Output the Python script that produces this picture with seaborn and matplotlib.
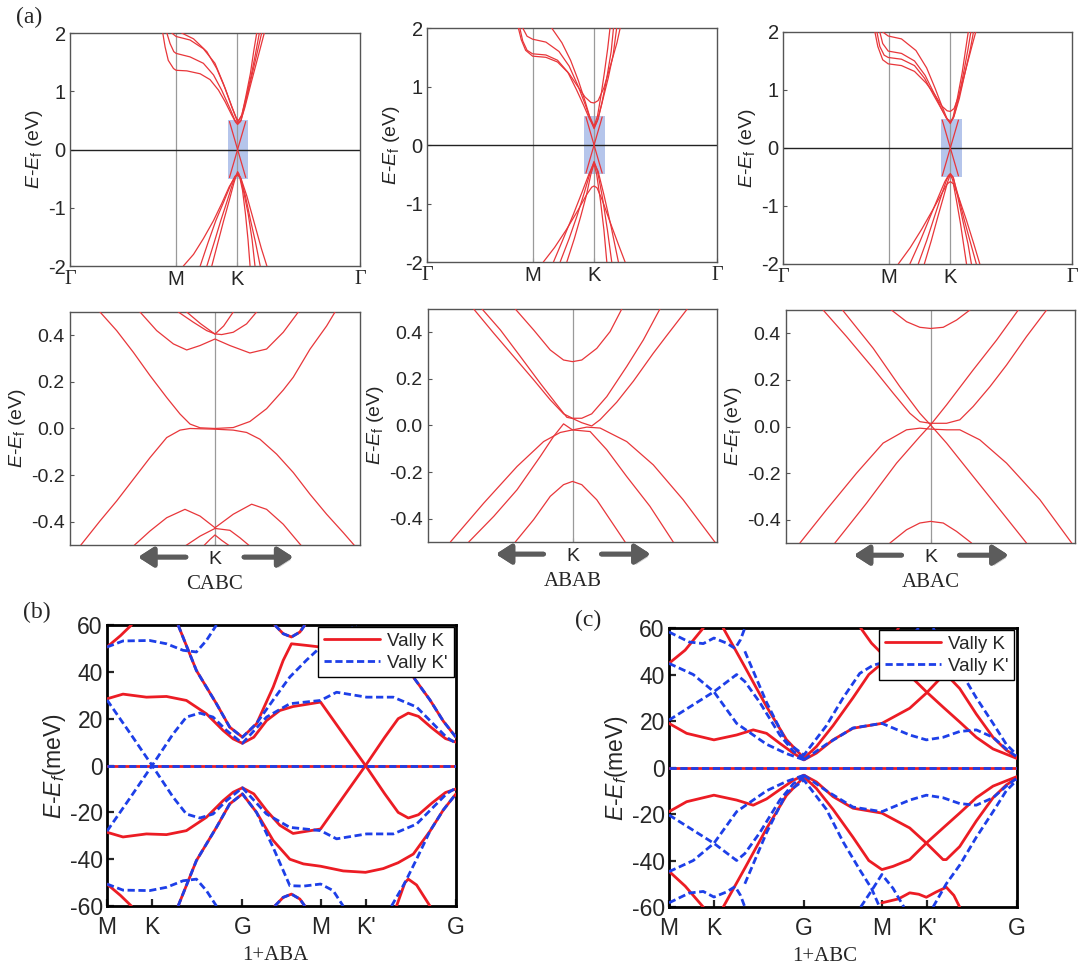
import pandas as pd
import matplotlib.pyplot as plt
import seaborn as sns
from matplotlib.lines import Line2D
import matplotlib.patheffects as pe

plt.switch_backend('Agg')

# ---------------- (a) top row: bands along Gamma-M-K-Gamma (k normalised to 1) ----------------
path_ticks = [0.0, 0.366, 0.577, 1.0]
path_labels = ['Γ', 'M', 'K', 'Γ']
stack_names = ['CABC', 'ABAB', 'ABAC']
zoom_windows = [(0.546, 0.615), (0.541, 0.614), (0.546, 0.618)]

cabc_full = [
    [(0.320, 2.0), (0.328, 1.76), (0.339, 1.53), (0.357, 1.39), (0.366, 1.36), (0.403, 1.35), (0.449, 1.30),
     (0.483, 1.20), (0.512, 1.02), (0.535, 0.82), (0.558, 0.59), (0.571, 0.47), (0.578, 0.43), (0.588, 0.48),
     (0.603, 0.72), (0.625, 1.15), (0.650, 1.62), (0.670, 2.0)],
    [(0.334, 2.0), (0.345, 1.82), (0.358, 1.68), (0.366, 1.65), (0.414, 1.59), (0.460, 1.48), (0.495, 1.28),
     (0.523, 1.02), (0.552, 0.70), (0.569, 0.50), (0.578, 0.45), (0.590, 0.50), (0.605, 0.80), (0.624, 1.20),
     (0.645, 1.65), (0.661, 2.0)],
    [(0.351, 2.0), (0.366, 1.94), (0.414, 1.88), (0.460, 1.73), (0.500, 1.48), (0.529, 1.13), (0.552, 0.82),
     (0.569, 0.59), (0.578, 0.47), (0.592, 0.58), (0.607, 0.88), (0.624, 1.25), (0.640, 1.65), (0.653, 2.0)],
    [(0.385, 2.0), (0.426, 1.90), (0.472, 1.68), (0.506, 1.39), (0.535, 1.05), (0.558, 0.73), (0.573, 0.55),
     (0.581, 0.49), (0.593, 0.60), (0.606, 0.90), (0.622, 1.30), (0.634, 1.70), (0.644, 2.0)],
    [(0.391, -2.0), (0.426, -1.80), (0.460, -1.53), (0.495, -1.22), (0.523, -0.93), (0.549, -0.64), (0.569, -0.47),
     (0.578, -0.44), (0.590, -0.50), (0.610, -0.80), (0.635, -1.25), (0.660, -1.70), (0.679, -2.0)],
    [(0.449, -2.0), (0.476, -1.60), (0.503, -1.22), (0.530, -0.90), (0.553, -0.62), (0.569, -0.46), (0.578, -0.42),
     (0.588, -0.48), (0.605, -0.80), (0.622, -1.20), (0.640, -1.60), (0.656, -2.0)],
    [(0.472, -2.0), (0.497, -1.60), (0.520, -1.22), (0.541, -0.90), (0.560, -0.60), (0.572, -0.45), (0.578, -0.41),
     (0.586, -0.46), (0.600, -0.75), (0.615, -1.12), (0.628, -1.55), (0.638, -2.0)],
    [(0.489, -2.0), (0.510, -1.60), (0.530, -1.22), (0.549, -0.88), (0.565, -0.58), (0.575, -0.42), (0.578, -0.38),
     (0.583, -0.42), (0.595, -0.70), (0.605, -1.10), (0.614, -1.55), (0.621, -2.0)],
    [(0.550, 0.48), (0.578, 0.0), (0.606, -0.48)],
    [(0.550, -0.48), (0.578, 0.0), (0.606, 0.48)],
]

abab_full = [
    [(0.315, 2.0), (0.325, 1.80), (0.340, 1.62), (0.364, 1.52), (0.410, 1.50), (0.450, 1.42), (0.490, 1.22),
     (0.520, 1.00), (0.545, 0.82), (0.565, 0.73), (0.576, 0.72), (0.590, 0.76), (0.610, 0.98), (0.635, 1.40),
     (0.655, 1.75), (0.666, 2.0)],
    [(0.320, 2.0), (0.330, 1.78), (0.345, 1.62), (0.364, 1.56), (0.410, 1.54), (0.450, 1.45), (0.485, 1.25),
     (0.515, 0.95), (0.540, 0.68), (0.560, 0.45), (0.576, 0.30), (0.590, 0.45), (0.605, 0.75), (0.625, 1.15),
     (0.642, 1.55), (0.654, 2.0)],
    [(0.330, 2.0), (0.345, 1.86), (0.364, 1.81), (0.410, 1.76), (0.455, 1.60), (0.490, 1.35), (0.520, 1.02),
     (0.545, 0.70), (0.563, 0.45), (0.576, 0.28), (0.588, 0.42), (0.603, 0.72), (0.620, 1.15), (0.635, 1.60),
     (0.643, 2.0)],
    [(0.430, 2.0), (0.465, 1.75), (0.495, 1.45), (0.522, 1.10), (0.545, 0.75), (0.560, 0.50), (0.576, 0.32),
     (0.588, 0.50), (0.600, 0.85), (0.612, 1.25), (0.623, 1.65), (0.631, 2.0)],
    [(0.401, -2.0), (0.440, -1.75), (0.480, -1.45), (0.520, -1.12), (0.550, -0.85), (0.568, -0.72), (0.576, -0.70),
     (0.586, -0.73), (0.605, -0.95), (0.630, -1.30), (0.660, -1.70), (0.683, -2.0)],
    [(0.436, -2.0), (0.470, -1.60), (0.505, -1.18), (0.535, -0.80), (0.558, -0.50), (0.576, -0.30), (0.590, -0.45),
     (0.610, -0.85), (0.635, -1.40), (0.660, -2.0)],
    [(0.459, -2.0), (0.490, -1.60), (0.518, -1.20), (0.542, -0.82), (0.562, -0.48), (0.576, -0.28), (0.588, -0.45),
     (0.605, -0.90), (0.622, -1.45), (0.637, -2.0)],
    [(0.482, -2.0), (0.508, -1.60), (0.530, -1.22), (0.550, -0.85), (0.565, -0.50), (0.576, -0.32), (0.585, -0.50),
     (0.598, -0.95), (0.610, -1.45), (0.620, -2.0)],
    [(0.548, 0.48), (0.576, 0.0), (0.604, -0.48)],
    [(0.548, -0.48), (0.576, 0.0), (0.604, 0.48)],
]

abac_full = [
    [(0.318, 2.0), (0.328, 1.75), (0.345, 1.52), (0.364, 1.45), (0.410, 1.42), (0.455, 1.32), (0.495, 1.12),
     (0.525, 0.92), (0.550, 0.72), (0.568, 0.64), (0.579, 0.63), (0.592, 0.68), (0.612, 0.95), (0.635, 1.40),
     (0.655, 1.78), (0.667, 2.0)],
    [(0.325, 2.0), (0.335, 1.75), (0.350, 1.60), (0.364, 1.56), (0.410, 1.53), (0.455, 1.42), (0.490, 1.20),
     (0.520, 0.92), (0.545, 0.70), (0.565, 0.52), (0.579, 0.45), (0.592, 0.55), (0.610, 0.85), (0.630, 1.30),
     (0.648, 1.70), (0.659, 2.0)],
    [(0.335, 2.0), (0.345, 1.80), (0.364, 1.67), (0.410, 1.63), (0.455, 1.50), (0.492, 1.25), (0.522, 0.95),
     (0.548, 0.68), (0.567, 0.50), (0.579, 0.44), (0.590, 0.52), (0.607, 0.85), (0.625, 1.30), (0.640, 1.70),
     (0.650, 2.0)],
    [(0.345, 2.0), (0.364, 1.93), (0.410, 1.88), (0.460, 1.68), (0.497, 1.38), (0.527, 1.02), (0.550, 0.72),
     (0.568, 0.50), (0.579, 0.42), (0.588, 0.52), (0.603, 0.85), (0.620, 1.30), (0.632, 1.70), (0.641, 2.0)],
    [(0.399, -2.0), (0.440, -1.72), (0.480, -1.40), (0.520, -1.05), (0.550, -0.78), (0.568, -0.62), (0.579, -0.58),
     (0.590, -0.62), (0.610, -0.88), (0.635, -1.25), (0.660, -1.65), (0.681, -2.0)],
    [(0.439, -2.0), (0.475, -1.60), (0.508, -1.20), (0.537, -0.85), (0.560, -0.58), (0.573, -0.47), (0.579, -0.45),
     (0.588, -0.50), (0.605, -0.80), (0.625, -1.20), (0.648, -1.62), (0.669, -2.0)],
    [(0.468, -2.0), (0.497, -1.60), (0.523, -1.20), (0.546, -0.85), (0.566, -0.55), (0.579, -0.44), (0.590, -0.52),
     (0.605, -0.85), (0.622, -1.25), (0.640, -1.65), (0.652, -2.0)],
    [(0.489, -2.0), (0.513, -1.60), (0.535, -1.20), (0.555, -0.85), (0.570, -0.58), (0.579, -0.46), (0.587, -0.55),
     (0.600, -0.90), (0.614, -1.30), (0.626, -1.70), (0.635, -2.0)],
    [(0.551, 0.48), (0.579, 0.0), (0.607, -0.48)],
    [(0.551, -0.48), (0.579, 0.0), (0.607, 0.48)],
]

# ---------------- (a) middle row: zoom around K (k from -1 to 1) ----------------
cabc_zoom = [
    [(-0.793, 0.50), (-0.678, 0.42), (-0.563, 0.327), (-0.448, 0.227), (-0.333, 0.133), (-0.241, 0.062),
     (-0.172, 0.019), (-0.103, 0.003), (0.0, 0.0), (0.126, 0.004), (0.241, 0.03), (0.356, 0.085), (0.471, 0.165),
     (0.540, 0.22), (0.655, 0.34), (0.770, 0.44), (0.828, 0.50)],
    [(-0.931, -0.505), (-0.793, -0.397), (-0.678, -0.311), (-0.563, -0.218), (-0.448, -0.125), (-0.333, -0.039),
     (-0.241, -0.007), (-0.172, 0.0), (0.0, -0.003), (0.126, -0.007), (0.218, -0.017), (0.310, -0.046),
     (0.425, -0.11), (0.540, -0.189), (0.655, -0.282), (0.770, -0.368), (0.885, -0.447), (0.966, -0.505)],
    [(-0.253, 0.50), (-0.149, 0.456), (-0.057, 0.42), (0.0, 0.406), (0.046, 0.403), (0.126, 0.413),
     (0.218, 0.449), (0.287, 0.50)],
    [(-0.195, 0.50), (-0.10, 0.45), (0.0, 0.405), (0.06, 0.44), (0.126, 0.50)],
    [(-0.517, 0.50), (-0.402, 0.42), (-0.287, 0.363), (-0.195, 0.337), (-0.103, 0.356), (0.0, 0.384),
     (0.103, 0.356), (0.241, 0.324), (0.356, 0.341), (0.471, 0.413), (0.575, 0.50)],
    [(-0.563, -0.505), (-0.448, -0.44), (-0.333, -0.383), (-0.207, -0.347), (-0.103, -0.376), (0.0, -0.426),
     (0.126, -0.368), (0.253, -0.325), (0.356, -0.347), (0.471, -0.411), (0.598, -0.505)],
    [(-0.207, -0.505), (-0.103, -0.462), (0.0, -0.429), (0.103, -0.437), (0.172, -0.469), (0.241, -0.505)],
    [(-0.080, -0.505), (-0.034, -0.476), (0.0, -0.457), (0.046, -0.48), (0.103, -0.505)],
]

abab_zoom = [
    [(-0.396, 0.50), (-0.269, 0.41), (-0.154, 0.324), (-0.062, 0.281), (0.0, 0.274), (0.064, 0.281),
     (0.168, 0.331), (0.260, 0.403), (0.341, 0.50)],
    [(-0.396, -0.50), (-0.269, -0.404), (-0.154, -0.304), (-0.062, -0.254), (0.0, -0.24), (0.064, -0.254),
     (0.168, -0.319), (0.260, -0.404), (0.364, -0.50)],
    [(-0.684, 0.50), (-0.545, 0.396), (-0.407, 0.296), (-0.269, 0.196), (-0.154, 0.11), (-0.062, 0.05),
     (0.0, 0.031), (0.064, 0.031), (0.133, 0.05), (0.237, 0.124), (0.375, 0.253), (0.490, 0.367), (0.605, 0.50)],
    [(-0.626, 0.50), (-0.499, 0.41), (-0.361, 0.296), (-0.223, 0.181), (-0.108, 0.089), (-0.039, 0.035),
     (0.0, 0.03), (0.064, 0.012), (0.133, -0.002), (0.191, 0.025), (0.306, 0.10), (0.421, 0.19), (0.559, 0.31),
     (0.651, 0.385), (0.794, 0.50)],
    [(-0.845, -0.50), (-0.614, -0.333), (-0.384, -0.176), (-0.200, -0.069), (-0.085, -0.03), (0.0, -0.019),
     (0.099, -0.007), (0.191, -0.011), (0.375, -0.069), (0.559, -0.169), (0.766, -0.319), (0.985, -0.50)],
    [(-0.718, -0.50), (-0.545, -0.39), (-0.384, -0.276), (-0.223, -0.133), (-0.131, -0.047), (-0.062, 0.007),
     (0.0, -0.019), (0.122, -0.026), (0.237, -0.104), (0.375, -0.219), (0.536, -0.347), (0.697, -0.50)],
]

abac_zoom = [
    [(-0.27, 0.50), (-0.166, 0.45), (-0.074, 0.426), (0.0, 0.421), (0.088, 0.426), (0.18, 0.457), (0.272, 0.50)],
    [(-0.281, -0.50), (-0.166, -0.443), (-0.074, -0.414), (0.0, -0.407), (0.088, -0.414), (0.18, -0.45),
     (0.284, -0.50)],
    [(-0.743, 0.50), (-0.581, 0.386), (-0.397, 0.25), (-0.258, 0.143), (-0.143, 0.057), (-0.074, 0.021),
     (0.0, 0.014), (0.111, 0.014), (0.203, 0.029), (0.295, 0.086), (0.411, 0.171), (0.526, 0.264),
     (0.664, 0.386), (0.803, 0.50)],
    [(-0.609, 0.50), (-0.397, 0.336), (-0.212, 0.171), (-0.074, 0.057), (0.0, 0.007), (0.111, -0.071),
     (0.295, -0.214), (0.48, -0.357), (0.664, -0.50)],
    [(-0.662, -0.50), (-0.443, -0.329), (-0.235, -0.157), (-0.074, -0.043), (0.0, 0.007), (0.111, 0.093),
     (0.295, 0.243), (0.457, 0.371), (0.607, 0.50)],
    [(-0.904, -0.50), (-0.72, -0.357), (-0.512, -0.2), (-0.328, -0.071), (-0.166, -0.014), (-0.074, -0.007),
     (0.0, -0.011), (0.111, -0.014), (0.203, -0.014), (0.341, -0.057), (0.526, -0.157), (0.757, -0.314),
     (0.977, -0.50)],
]

# ---------------- (b), (c): valley-resolved bands along M-K-G-M-K'-G (meV) ----------------
valley_ticks = [0.0, 0.333, 1.0, 1.577, 1.911, 2.577]
valley_labels = ['M', 'K', 'G', 'M', "K'", 'G']

aba_valley_k = [
    [(0.0, 0.0), (2.577, 0.0)],
    [(0.0, 28.5), (0.118, 30.5), (0.291, 29.2), (0.439, 29.5), (0.586, 27.8), (0.734, 22.1), (0.857, 15.0),
     (0.931, 11.4), (1.0, 9.5), (1.084, 12.1), (1.178, 19.2), (1.276, 23.5), (1.374, 25.2), (1.577, 27.1),
     (1.909, 0.0), (2.050, -12.0), (2.150, -20.0), (2.225, -22.4), (2.300, -21.0), (2.400, -16.0),
     (2.500, -11.5), (2.577, -10.0)],
    [(0.0, -28.5), (0.118, -30.5), (0.291, -29.2), (0.439, -29.5), (0.586, -27.8), (0.734, -22.1), (0.857, -15.0),
     (0.931, -11.4), (1.0, -9.5), (1.084, -12.1), (1.178, -19.2), (1.276, -25.5), (1.374, -29.0), (1.577, -27.1),
     (1.909, 0.0), (2.050, 12.0), (2.150, 20.0), (2.225, 22.4), (2.300, 21.0), (2.400, 16.0), (2.500, 11.5),
     (2.577, 10.0)],
    [(0.525, 60.0), (0.660, 40.6), (0.808, 26.4), (0.906, 16.4), (1.0, 12.1), (1.104, 17.8), (1.227, 33.5),
     (1.301, 44.9), (1.362, 52.0), (1.473, 51.3), (1.577, 50.6), (1.744, 52.5), (1.909, 52.5), (2.040, 50.0),
     (2.150, 45.5), (2.262, 37.8), (2.385, 28.0), (2.483, 19.0), (2.577, 12.1)],
    [(0.525, -60.0), (0.660, -40.6), (0.808, -26.4), (0.906, -16.4), (1.0, -12.1), (1.104, -20.0), (1.227, -32.0),
     (1.350, -40.0), (1.450, -42.0), (1.577, -43.0), (1.744, -45.0), (1.909, -45.6), (2.040, -44.0),
     (2.150, -41.5), (2.262, -37.8), (2.385, -28.0), (2.483, -19.0), (2.577, -12.1)],
    [(0.0, 50.6), (0.10, 55.5), (0.18, 60.0)],
    [(0.0, -50.6), (0.10, -55.5), (0.18, -60.0)],
    [(1.239, 60.0), (1.301, 56.3), (1.362, 54.9), (1.424, 57.0), (1.461, 60.0)],
    [(1.239, -60.0), (1.301, -56.3), (1.362, -54.9), (1.424, -57.0), (1.461, -60.0)],
    [(2.138, -60.0), (2.200, -50.0), (2.225, -48.5), (2.286, -51.0), (2.385, -60.0)],
]

aba_valley_kp = [
    [(0.0, 0.0), (2.577, 0.0)],
    [(0.0, 50.6), (0.118, 53.2), (0.315, 53.4), (0.439, 52.0), (0.562, 49.2), (0.660, 48.5), (0.734, 53.4),
     (0.808, 60.0)],
    [(0.0, -50.6), (0.118, -53.2), (0.315, -53.4), (0.439, -52.0), (0.562, -49.2), (0.660, -48.5), (0.734, -53.4),
     (0.808, -60.0)],
    [(0.0, 28.0), (0.168, 14.0), (0.333, 0.0), (0.488, -13.5), (0.586, -20.7), (0.685, -22.4), (0.783, -20.7),
     (0.882, -15.0), (1.0, -9.5), (1.178, -20.7), (1.350, -26.4), (1.577, -27.8), (1.695, -31.3), (1.917, -29.2),
     (2.114, -29.2), (2.286, -25.0), (2.409, -17.8), (2.507, -12.1), (2.577, -9.5)],
    [(0.0, -28.0), (0.168, -14.0), (0.333, 0.0), (0.488, 13.5), (0.586, 20.7), (0.685, 22.4), (0.783, 20.7),
     (0.882, 15.0), (1.0, 9.5), (1.178, 20.7), (1.350, 26.4), (1.577, 27.8), (1.695, 31.3), (1.917, 29.2),
     (2.114, 29.2), (2.286, 25.0), (2.409, 17.8), (2.507, 12.1), (2.577, 9.5)],
    [(0.525, 60.0), (0.660, 40.6), (0.808, 26.4), (0.906, 16.4), (1.0, 12.1), (1.104, 18.0), (1.227, 28.0),
     (1.350, 37.8), (1.473, 45.0), (1.577, 50.6), (1.670, 53.0), (1.769, 57.0), (1.840, 60.0)],
    [(0.525, -60.0), (0.660, -40.6), (0.808, -26.4), (0.906, -16.4), (1.0, -12.1), (1.104, -20.0), (1.227, -35.0),
     (1.350, -51.3), (1.450, -51.5), (1.577, -50.6), (1.670, -53.4), (1.744, -60.0)],
    [(2.040, 50.0), (2.150, 45.5), (2.262, 37.8), (2.385, 28.0), (2.483, 19.0), (2.577, 12.1)],
    [(2.101, -60.0), (2.200, -50.0), (2.286, -40.0), (2.385, -28.0), (2.483, -19.0), (2.577, -12.1)],
    [(1.239, 60.0), (1.301, 56.3), (1.362, 54.9), (1.424, 57.0), (1.461, 60.0)],
    [(1.239, -60.0), (1.301, -56.3), (1.362, -54.9), (1.424, -57.0), (1.461, -60.0)],
]

abc_valley_k = [
    [(0.0, 0.0), (2.577, 0.0)],
    [(0.0, 19.0), (0.131, 14.7), (0.333, 11.9), (0.501, 14.0), (0.624, 16.2), (0.723, 14.7), (0.821, 10.4),
     (0.921, 6.2), (1.0, 3.3), (1.092, 6.2), (1.215, 11.9), (1.363, 16.9), (1.577, 19.0), (1.783, 25.5),
     (1.906, 32.0), (2.030, 39.6), (2.054, 40.0), (2.153, 34.0), (2.276, 23.0), (2.400, 13.0), (2.498, 7.5),
     (2.577, 4.5)],
    [(0.0, -19.0), (0.131, -14.7), (0.333, -11.9), (0.501, -14.0), (0.624, -16.2), (0.723, -13.5), (0.821, -9.5),
     (0.921, -5.5), (1.0, -3.3), (1.092, -6.2), (1.215, -12.5), (1.363, -17.5), (1.577, -19.6), (1.783, -26.0),
     (1.906, -32.5), (2.030, -39.6), (2.054, -39.6), (2.153, -34.0), (2.276, -23.0), (2.400, -13.0),
     (2.498, -7.5), (2.577, -4.5)],
    [(0.402, 60.0), (0.562, 43.3), (0.723, 26.2), (0.870, 12.0), (1.0, 4.0), (1.092, 9.0), (1.215, 18.0),
     (1.363, 30.0), (1.480, 40.0), (1.577, 44.8), (1.660, 43.0), (1.783, 39.6), (1.906, 32.6), (2.030, 26.0),
     (2.153, 19.6), (2.276, 13.0), (2.400, 8.0), (2.577, 3.9)],
    [(0.402, -60.0), (0.562, -43.3), (0.723, -26.2), (0.870, -12.0), (1.0, -4.0), (1.092, -9.0), (1.215, -18.0),
     (1.363, -30.0), (1.480, -40.0), (1.577, -43.9), (1.660, -42.5), (1.783, -39.6), (1.906, -32.5),
     (2.030, -26.0), (2.153, -19.6), (2.276, -13.0), (2.400, -8.0), (2.577, -3.9)],
    [(0.0, 44.8), (0.120, 50.5), (0.254, 60.0)],
    [(0.0, -44.6), (0.120, -51.0), (0.254, -60.0)],
    [(1.420, 60.0), (1.500, 53.5), (1.577, 49.0), (1.640, 54.0), (1.700, 60.0)],
    [(1.577, -58.2), (1.700, -56.5), (1.783, -53.9), (1.850, -54.5), (1.906, -55.8), (1.980, -53.5),
     (2.054, -51.5), (2.110, -55.0), (2.153, -60.0)],
]

abc_valley_kp = [
    [(0.0, 0.0), (2.577, 0.0)],
    [(0.0, 58.3), (0.150, 54.0), (0.254, 53.3), (0.333, 55.7), (0.427, 53.5), (0.490, 51.2), (0.530, 55.0),
     (0.562, 60.0)],
    [(0.0, -58.2), (0.150, -54.0), (0.254, -53.3), (0.333, -55.7), (0.427, -53.5), (0.490, -51.2), (0.530, -55.0),
     (0.562, -60.0)],
    [(0.0, 44.8), (0.180, 40.0), (0.333, 32.6), (0.501, 19.0), (0.624, 14.0), (0.723, 10.0), (0.870, 6.0),
     (1.0, 3.3)],
    [(0.0, 20.4), (0.180, 27.0), (0.333, 32.6), (0.501, 40.0), (0.562, 37.0), (0.673, 28.0), (0.821, 14.0),
     (0.921, 7.0), (1.0, 4.0)],
    [(0.0, -44.8), (0.180, -40.0), (0.333, -32.6), (0.501, -19.0), (0.624, -14.0), (0.723, -10.0), (0.870, -6.0),
     (1.0, -3.3)],
    [(0.0, -20.4), (0.180, -27.0), (0.333, -32.6), (0.501, -40.0), (0.562, -37.0), (0.673, -28.0), (0.821, -14.0),
     (0.921, -7.0), (1.0, -4.0)],
    [(1.0, 3.3), (1.166, 10.0), (1.363, 17.0), (1.577, 19.0), (1.783, 14.0), (1.906, 11.9), (2.030, 13.0),
     (2.153, 15.5), (2.276, 16.2), (2.400, 13.0), (2.498, 8.0), (2.577, 4.5)],
    [(1.0, -3.3), (1.166, -10.0), (1.363, -17.0), (1.577, -19.0), (1.783, -14.0), (1.906, -11.9), (2.030, -13.0),
     (2.153, -15.5), (2.276, -16.2), (2.400, -13.0), (2.498, -8.0), (2.577, -4.5)],
    [(0.562, 50.0), (0.723, 28.0), (0.870, 11.0), (1.0, 5.4), (1.166, 18.0), (1.290, 30.0), (1.413, 40.5),
     (1.512, 44.0), (1.577, 45.0), (1.660, 50.0), (1.783, 56.0), (1.850, 60.0)],
    [(0.562, -50.0), (0.723, -28.0), (0.870, -11.0), (1.0, -5.4), (1.166, -18.0), (1.290, -32.0), (1.413, -44.0),
     (1.500, -52.0), (1.560, -60.0)],
    [(1.420, -60.0), (1.500, -53.0), (1.577, -46.0), (1.660, -52.0), (1.740, -60.0)],
    [(1.956, 60.0), (2.054, 50.0), (2.153, 42.0), (2.276, 30.0), (2.400, 19.0), (2.498, 10.0), (2.577, 5.4)],
    [(1.956, -60.0), (2.054, -50.0), (2.153, -42.0), (2.276, -30.0), (2.400, -19.0), (2.498, -10.0), (2.577, -5.4)],
]


def to_frame(bands):
    rows = [(i, k, e) for i, band in enumerate(bands) for k, e in band]
    return pd.DataFrame(rows, columns=['band', 'k', 'E'])


def draw_bands(ax, bands, **kws):
    sns.lineplot(data=to_frame(bands), x='k', y='E', units='band', estimator=None, sort=False,
                 legend=False, ax=ax, **kws)


sns.set_style('ticks')
plt.rcParams['font.family'] = ['Liberation Sans', 'DejaVu Sans']
plt.rcParams['mathtext.fontset'] = 'custom'
plt.rcParams['mathtext.rm'] = 'Liberation Sans'
plt.rcParams['mathtext.it'] = 'Liberation Sans:italic'
plt.rcParams['axes.unicode_minus'] = False
serif = ['Liberation Serif', 'DejaVu Serif']

band_red = '#e8363a'
frame_gray = '#555555'

fig = plt.figure(figsize=(10.8, 9.68), dpi=100)

top_pos = [[0.0648, 0.7252, 0.2685, 0.2407], [0.3954, 0.7293, 0.2685, 0.2417], [0.7250, 0.7273, 0.2676, 0.2397]]
mid_pos = [[0.0648, 0.4370, 0.2685, 0.2407], [0.3963, 0.4401, 0.2676, 0.2407], [0.7278, 0.4390, 0.2676, 0.2407]]

for pos, bands, win in zip(top_pos, [cabc_full, abab_full, abac_full], zoom_windows):
    ax = fig.add_axes(pos)
    ax.fill_between(list(win), -0.5, 0.5, color='#b5c5eb', lw=0, zorder=0)
    for x in path_ticks[1:3]:
        ax.axvline(x, color='#9a9a9a', lw=0.9, zorder=1)
    ax.axhline(0, color='#222222', lw=1.0, zorder=1)
    draw_bands(ax, bands, color=band_red, lw=0.9, zorder=3)
    ax.set_xlim(0, 1)
    ax.set_ylim(-2, 2)
    ax.set_xticks(path_ticks)
    ax.set_xticklabels(path_labels)
    for lbl in ax.get_xticklabels():
        if lbl.get_text() == 'Γ':
            lbl.set_fontfamily(serif)
    ax.set_yticks([-2, -1, 0, 1, 2])
    ax.set_yticklabels(['-2', '-1', '0', '1', '2'])
    ax.tick_params(direction='in', length=3, color=frame_gray, labelsize=14.5, pad=3)
    ax.set_xlabel('')
    ax.set_ylabel(r'$E$-$E_\mathrm{f}$ (eV)', fontsize=14, labelpad=2)
    for s in ax.spines.values():
        s.set_color(frame_gray)
        s.set_linewidth(1.0)

for pos, bands, name in zip(mid_pos, [cabc_zoom, abab_zoom, abac_zoom], stack_names):
    ax = fig.add_axes(pos)
    ax.axvline(0, color='#9a9a9a', lw=0.9, zorder=1)
    draw_bands(ax, bands, color=band_red, lw=0.9, zorder=3)
    ax.set_xlim(-1, 1)
    ax.set_ylim(-0.5, 0.5)
    ax.set_xticks([0])
    ax.set_xticklabels(['K'])
    ax.set_yticks([-0.4, -0.2, 0.0, 0.2, 0.4])
    ax.set_yticklabels(['-0.4', '-0.2', '0.0', '0.2', '0.4'])
    ax.tick_params(direction='in', length=3, color=frame_gray, labelsize=14, pad=4)
    ax.set_xlabel('')
    ax.set_ylabel(r'$E$-$E_\mathrm{f}$ (eV)', fontsize=14, labelpad=2)
    for s in ax.spines.values():
        s.set_color(frame_gray)
        s.set_linewidth(1.0)
    for x0, x1 in [(0.40, 0.235), (0.60, 0.77)]:
        ann = ax.annotate('', xy=(x1, -0.052), xytext=(x0, -0.052), xycoords='axes fraction',
                          annotation_clip=False,
                          arrowprops=dict(arrowstyle='-|>,head_length=0.7,head_width=0.45', lw=3.4,
                                          color='#5c5c5c', shrinkA=0, shrinkB=0, mutation_scale=13))
        ann.arrow_patch.set_path_effects([pe.withSimplePatchShadow(offset=(1.5, -2), shadow_rgbFace='#888888',
                                                                   alpha=0.45), pe.Normal()])
    ax.text(0.5, -0.168, name, transform=ax.transAxes, ha='center', va='center', fontsize=15, family=serif)

fig.text(0.027, 0.982, '(a)', fontsize=17, family=serif, ha='center', va='center')

# ---------------- (b) and (c) ----------------
bot_pos = [[0.0991, 0.0640, 0.3231, 0.2903], [0.6194, 0.0630, 0.3222, 0.2882]]
valley_sets = [(aba_valley_k, aba_valley_kp, '1+ABA', 0.481), (abc_valley_k, abc_valley_kp, '1+ABC', 0.448)]
valley_red = '#ec1c24'
valley_blue = '#1d3fe8'

for pos, (vk, vkp, name, xc) in zip(bot_pos, valley_sets):
    ax = fig.add_axes(pos)
    draw_bands(ax, vk, color=valley_red, lw=2.0, zorder=3)
    draw_bands(ax, vkp, color=valley_blue, lw=2.0, linestyle=(0, (2.6, 1.3)), zorder=4)
    ax.set_xlim(valley_ticks[0], valley_ticks[-1])
    ax.set_ylim(-60, 60)
    ax.set_xticks(valley_ticks)
    ax.set_xticklabels(valley_labels)
    ax.set_yticks([-60, -40, -20, 0, 20, 40, 60])
    ax.set_yticklabels(['-60', '-40', '-20', '0', '20', '40', '60'])
    ax.tick_params(direction='in', length=5, width=1.6, labelsize=16.5)
    ax.tick_params(axis='x', pad=7)
    ax.tick_params(axis='y', pad=3)
    ax.set_xlabel('')
    ax.set_ylabel(r'$E$-$E_f$(meV)', fontsize=16.5, labelpad=1)
    for s in ax.spines.values():
        s.set_color('black')
        s.set_linewidth(2.0)
    handles = [Line2D([], [], color=valley_red, lw=2.0),
               Line2D([], [], color=valley_blue, lw=2.0, linestyle=(0, (2.6, 1.3)))]
    leg = ax.legend(handles, ['Vally K', "Vally K'"], loc='upper right', bbox_to_anchor=(0.993, 0.993),
                    borderaxespad=0, fontsize=13.5, frameon=True, fancybox=False, framealpha=1,
                    edgecolor='black', handlelength=3.0, handletextpad=0.4, labelspacing=0.25, borderpad=0.3)
    leg.get_frame().set_linewidth(1.0)
    leg.set_zorder(10)
    ax.text(xc, -0.176, name, transform=ax.transAxes, ha='center', va='center', fontsize=15, family=serif)

fig.text(0.034, 0.367, '(b)', fontsize=17, family=serif, ha='center', va='center')
fig.text(0.545, 0.3595, '(c)', fontsize=17, family=serif, ha='center', va='center')

plt.savefig('out.png', dpi=100)
plt.close()
